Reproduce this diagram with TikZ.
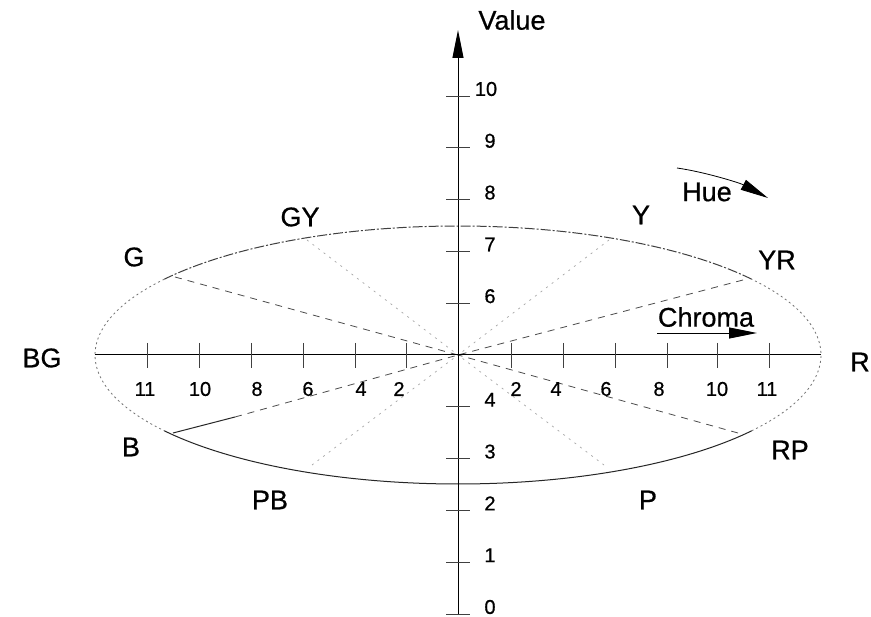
\documentclass[tikz,border=0pt]{standalone}
\usepackage{fontspec}
\setmainfont{Liberation Sans}
\newfontfamily\heavyfont{Liberation Sans}[FakeBold=0.6]
\usetikzlibrary{arrows.meta}
\begin{document}
\begin{tikzpicture}[x=1pt,y=-1pt,
  big/.style={font=\heavyfont\fontsize{27}{30}\selectfont, inner sep=0pt},
  num/.style={font=\heavyfont\fontsize{20}{22}\selectfont, inner sep=0pt},
  axis/.style={line width=1pt, black},
  tickmark/.style={line width=0.8pt, black!75},
  rimtop/.style={line width=1pt, black!75, dash pattern=on 10pt off 2pt on 2pt off 2pt},
  rimside/.style={line width=0.8pt, black!55, dash pattern=on 2pt off 3pt},
  rimbot/.style={line width=1pt, black!85},
  spoke/.style={line width=0.8pt, black!70, dash pattern=on 7pt off 6pt},
  faint/.style={line width=0.7pt, black!35, dash pattern=on 2pt off 5pt},
  headtip/.style={-{Triangle[length=28pt,width=11pt]}}
]
\useasboundingbox (0,0) rectangle (871,617);
\fill[white] (0,0) rectangle (871,617);

% key points
\coordinate (O) at (458,355);
\coordinate (vbot) at (458,614);
\coordinate (vtop) at (458,30);
\coordinate (hl) at (95,355);
\coordinate (hr) at (821,355);
\coordinate (pG) at (175,277);
\coordinate (pYR) at (743,280);
\coordinate (pB) at (173,433);
\coordinate (pB2) at (235,417);
\coordinate (pRP) at (738,433);
\coordinate (pGY) at (307,240);
\coordinate (pY) at (609,240);
\coordinate (pPB) at (312,465);
\coordinate (pP) at (604,465);
\coordinate (h1) at (677,168);
\coordinate (h2) at (768,198);
\coordinate (c1) at (657,333);
\coordinate (c2) at (757,333);

% ellipse (hue circle)
\draw[rimtop] plot[domain=36:144,samples=80] ({458+363*cos(\x)},{355-129*sin(\x)});
\draw[rimside] plot[domain=144:216,samples=60] ({458+363*cos(\x)},{355-129*sin(\x)});
\draw[rimside] plot[domain=-36:36,samples=60] ({458+363*cos(\x)},{355-129*sin(\x)});
\draw[rimbot] plot[domain=216:324,samples=80] ({458+363*cos(\x)},{355-129*sin(\x)});

% spokes
\draw[spoke] (pG) -- (O);
\draw[spoke] (pYR) -- (O);
\draw[spoke] (pRP) -- (O);
\draw[rimbot] (pB) -- (pB2);
\draw[spoke] (pB2) -- (O);
\draw[faint] (pGY) -- (O);
\draw[faint] (pY) -- (O);
\draw[faint] (pPB) -- (O);
\draw[faint] (pP) -- (O);

% chroma axis
\draw[axis] (hl) -- (hr);
\foreach \t in {147,199,251,303,355,406,511,563,615,667,717,769}
  \draw[tickmark] (\t,343) -- (\t,368);
\foreach \x/\l [count=\i] in {145/11,200/10,257/8,308/6,361/4,399/2,516/2,556/4,606/6,659/8,717/10,767/11}
  \node[num] (ch\i) at (\x,389) {\l};

% value axis
\draw[axis,headtip] (vbot) -- (vtop);
\foreach \v in {0,1,2,3,4,6,7,8,9,10}
  \draw[tickmark] (446,{614-51.8*\v}) -- (470,{614-51.8*\v});
\foreach \v in {0,1,2,3,4,6,7,8,9}
  \node[num] (va\v) at (490,{607-51.8*\v}) {\v};
\node[num] (va10) at (486,89) {10};

% hue and chroma arrows
\draw[line width=0.8pt,headtip] (h1) .. controls (705,172) and (740,183) .. (h2);
\draw[line width=0.9pt,headtip] (c1) -- (c2);

% labels
\node[big] (lValue) at (512,20) {Value};
\node[big] (lHue) at (707,192) {Hue};
\node[big] (lChroma) at (706,317) {Chroma};
\node[big] (lGY) at (300,217) {GY};
\node[big] (lY) at (641,215) {Y};
\node[big] (lG) at (134,257) {G};
\node[big] (lYR) at (777,260) {YR};
\node[big] (lBG) at (42,358) {BG};
\node[big] (lR) at (860,362) {R};
\node[big] (lB) at (131,447) {B};
\node[big] (lRP) at (790,450) {RP};
\node[big] (lPB) at (270,500) {PB};
\node[big] (lP) at (648,500) {P};
\end{tikzpicture}
\end{document}
